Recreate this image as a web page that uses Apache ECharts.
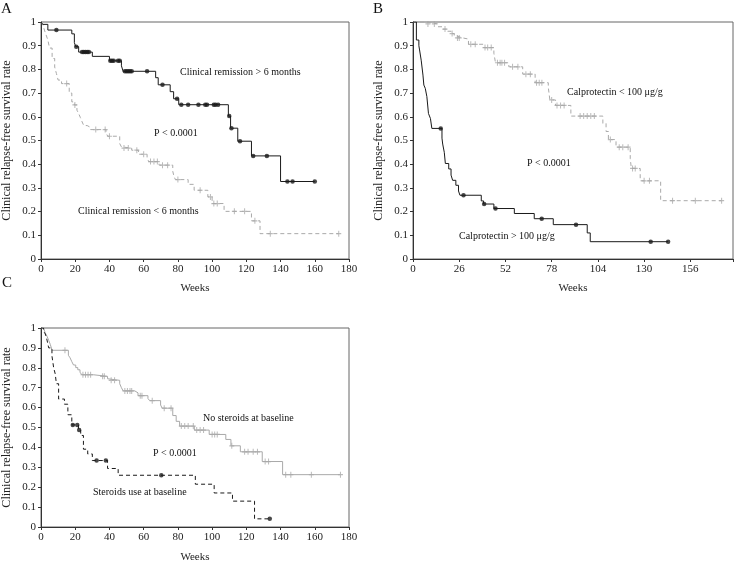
<!DOCTYPE html>
<html>
<head>
<meta charset="utf-8">
<script src="https://cdn.jsdelivr.net/npm/echarts@6/dist/echarts.min.js"></script>
<style>
html,body{margin:0;padding:0;background:#fff;}
#chart{width:736px;height:564px;}
</style>
</head>
<body>
<div id="chart"></div>
<script>
// ---------- Data ----------
// Panel A: Clinical remission > 6 months (black, dots)
const aHighTimes = [0, 1, 4, 18, 19.5, 20.3, 22, 30, 40, 47, 48, 67, 68.5, 75.5, 77.5, 80.5, 109.5, 110.8, 115, 123, 140, 160];
const aHighSurv  = [1, 0.99, 0.966, 0.95, 0.913, 0.896, 0.873, 0.855, 0.836, 0.815, 0.792, 0.765, 0.735, 0.706, 0.676, 0.651, 0.603, 0.552, 0.497, 0.435, 0.327, 0.327];
const aHighCensor = [9, 20.6, 24, 25, 26, 27, 28, 40.5, 41.5, 42.5, 45, 46, 49, 50, 51, 52, 53, 62, 71, 79.5, 82, 86, 92, 96, 97, 101, 102, 103.5, 110, 111.3, 116.3, 124, 132, 144, 147, 160];
// Panel A: Clinical remission < 6 months (grey dashed, +)
const aLowTimes = [0, 1, 2, 3, 4, 5, 6.5, 8, 9, 10, 12, 16.5, 18, 19.5, 21, 22, 23, 24, 25, 27, 29, 38, 39, 46, 47, 48, 53, 57, 62, 63, 69, 77, 77.5, 78.5, 86, 89.5, 97.5, 100, 107, 123, 128, 174];
const aLowSurv  = [1, 0.99, 0.966, 0.945, 0.924, 0.89, 0.846, 0.81, 0.783, 0.755, 0.74, 0.7, 0.663, 0.65, 0.628, 0.614, 0.597, 0.579, 0.563, 0.555, 0.546, 0.532, 0.518, 0.487, 0.473, 0.468, 0.459, 0.442, 0.425, 0.411, 0.396, 0.37, 0.355, 0.335, 0.315, 0.29, 0.262, 0.234, 0.201, 0.161, 0.107, 0.107];
const aLowCensor = [15, 19.8, 32, 37.5, 40, 48.5, 51, 56, 60, 64, 66, 68, 71, 74, 80, 93, 99, 101, 103, 113, 119, 125, 134, 174];

// Panel B: Calprotectin < 100 µg/g (grey dashed, +)
const bLowTimes = [0, 7.4, 13.9, 16.7, 19.5, 21.4, 23.2, 24.5, 27.9, 31.2, 39.6, 45.5, 46.4, 53.9, 61.7, 68.7, 76.1, 77, 80.2, 88.8, 106.8, 108.6, 109.9, 114.2, 122.2, 122.8, 127.8, 139.3, 173.6];
const bLowSurv  = [1, 0.992, 0.98, 0.97, 0.961, 0.951, 0.941, 0.933, 0.928, 0.906, 0.892, 0.868, 0.828, 0.811, 0.78, 0.744, 0.724, 0.671, 0.648, 0.603, 0.572, 0.538, 0.504, 0.472, 0.425, 0.382, 0.33, 0.246, 0.246];
const bLowCensor = [8.4, 12, 18, 22, 25, 26, 32.5, 35, 40.5, 42, 44, 47.5, 49, 50, 51.5, 56, 59, 63.5, 66, 69.5, 71, 72.5, 78, 81, 83, 85, 94, 96, 98, 100, 102, 111, 116, 118, 121, 123.5, 125, 130, 133, 146, 158.8, 173.6];
// Panel B: Calprotectin > 100 µg/g (black, dots)
const bHighTimes = [0, 1.9, 3.3, 3.7, 4.6, 5.6, 6.1, 6.9, 7.8, 8.7, 9.8, 10.6, 16.3, 16.7, 17.6, 18.2, 20.1, 21.4, 22.3, 24.1, 25.6, 26.4, 38.4, 39.7, 45.5, 57, 68.2, 78.9, 98, 99.7, 143.5];
const bHighSurv  = [1, 0.924, 0.9, 0.882, 0.839, 0.776, 0.734, 0.72, 0.685, 0.614, 0.593, 0.551, 0.51, 0.485, 0.45, 0.403, 0.38, 0.354, 0.332, 0.311, 0.287, 0.269, 0.245, 0.232, 0.213, 0.192, 0.17, 0.145, 0.11, 0.073, 0.073];
const bHighCensor = [15.6, 28.4, 40, 46.4, 72.4, 91.7, 133.7, 143.5];

// Panel C: No steroids at baseline (grey solid, +)
const cNoTimes = [0, 1.5, 2.5, 3.5, 4.5, 5.4, 6.5, 16, 17, 18, 19, 20.3, 21.5, 22.8, 23.8, 30.6, 38.9, 39.9, 46, 47, 48, 54.8, 56.7, 62.5, 63.5, 69.9, 70.8, 77, 79, 81, 89.6, 98.3, 108, 111, 116.5, 129.3, 141.2, 175];
const cNoSurv  = [1, 0.992, 0.975, 0.959, 0.938, 0.918, 0.888, 0.863, 0.85, 0.831, 0.814, 0.801, 0.79, 0.778, 0.765, 0.757, 0.745, 0.737, 0.72, 0.7, 0.684, 0.674, 0.66, 0.646, 0.635, 0.613, 0.597, 0.56, 0.531, 0.507, 0.487, 0.465, 0.44, 0.408, 0.378, 0.329, 0.263, 0.263];
const cNoCensor = [14, 24.5, 26, 27.5, 29, 36, 37, 41, 43, 49, 50.5, 52, 53, 58, 59, 65, 72, 76, 82, 84, 86, 89, 91, 93, 95, 100, 101.5, 103, 111.5, 119, 121, 124, 126.5, 131, 133, 143, 146, 158, 175];
// Panel C: Steroids use at baseline (black dashed, dots)
const cStTimes = [0, 1.5, 2.5, 3.5, 4.5, 6.4, 7.4, 8.3, 9, 10.3, 13.7, 15.7, 18, 21.9, 23.2, 24.8, 27.3, 30, 38.9, 45.1, 90.2, 101.2, 111.9, 124.8, 133.7];
const cStSurv  = [1, 0.984, 0.97, 0.94, 0.9, 0.86, 0.8, 0.77, 0.72, 0.643, 0.617, 0.564, 0.513, 0.487, 0.46, 0.391, 0.367, 0.334, 0.294, 0.26, 0.215, 0.171, 0.13, 0.041, 0.041];
const cStCensor = [18.6, 21.2, 22.3, 32.5, 37.9, 70.3, 133.7];

// Axis ticks
const yTicks = [0, 0.1, 0.2, 0.3, 0.4, 0.5, 0.6, 0.7, 0.8, 0.9, 1];
const xTicksAC = [0, 20, 40, 60, 80, 100, 120, 140, 160, 180];
const xTicksB = [0, 26, 52, 78, 104, 130, 156];

// ---------- Helpers ----------
const FONT = '"Liberation Serif", "DejaVu Serif", serif';
const BLACK = '#1a1a1a';
const GREY = '#a9a9a9';
const PLUS = 'path://M4,0H6V4H10V6H6V10H4V6H0V4H4Z';

function pairs(t, s) { return t.map((v, i) => [v, s[i]]); }
function survAt(t, s, x) {
  let v = s[0];
  for (let i = 0; i < t.length; i++) { if (t[i] <= x) v = s[i]; }
  return v;
}
function censorPts(t, s, c) { return c.map(x => [x, survAt(t, s, x)]); }

const grids = [
  { left: 39, top: 22, width: 310, height: 237 },
  { left: 413, top: 22, width: 322, height: 237 },
  { left: 39, top: 328, width: 310, height: 203 }
];

function mainX(gi, interval, ticks, gap) {
  return {
    type: 'value', gridIndex: gi, min: 0, max: 180, interval: interval,
    name: 'Weeks', nameLocation: 'middle', nameGap: gap,
    nameTextStyle: { fontFamily: FONT, fontSize: 11, color: '#222' },
    axisLine: { lineStyle: { color: '#333', width: 1 } },
    axisTick: { length: 3, lineStyle: { color: '#333' } },
    axisLabel: { fontFamily: FONT, fontSize: 11, color: '#222', margin: 5,
      formatter: v => (ticks.indexOf(v) >= 0 ? String(v) : '') },
    splitLine: { show: false }
  };
}
function innerX(gi, interval) {
  return {
    type: 'value', gridIndex: gi, min: 0, max: 180, interval: interval,
    axisLine: { show: false }, axisLabel: { show: false }, splitLine: { show: false },
    axisTick: { inside: true, length: 3, lineStyle: { color: '#333' } }
  };
}
function mainY(gi) {
  return {
    type: 'value', gridIndex: gi, min: 0, max: 1, interval: 0.1,
    name: 'Clinical relapse-free survival rate', nameLocation: 'middle', nameGap: 28, nameRotate: 90,
    nameTextStyle: { fontFamily: FONT, fontSize: 12, color: '#222' },
    axisLine: { show: true, lineStyle: { color: '#333', width: 1 } },
    axisTick: { show: true, length: 3, lineStyle: { color: '#333' } },
    axisLabel: { fontFamily: FONT, fontSize: 11, color: '#222', margin: 5,
      formatter: v => { const r = Math.round(v * 10) / 10; return yTicks.indexOf(r) >= 0 ? String(r) : ''; } },
    splitLine: { show: false }
  };
}
function innerY(gi) {
  return {
    type: 'value', gridIndex: gi, min: 0, max: 1, interval: 0.1,
    axisLine: { show: false }, axisLabel: { show: false }, splitLine: { show: false },
    axisTick: { show: true, inside: true, length: 3, lineStyle: { color: '#333' } }
  };
}

function stepLine(xi, t, s, color, dashed) {
  return {
    type: 'line', xAxisIndex: xi, yAxisIndex: xi, step: 'end', showSymbol: false, silent: true,
    data: pairs(t, s),
    lineStyle: { color: color, width: 1, type: dashed ? [4, 3] : 'solid' },
    animation: false, z: 3
  };
}
function censorDots(xi, t, s, c) {
  return {
    type: 'scatter', xAxisIndex: xi, yAxisIndex: xi, symbol: 'circle', symbolSize: 4.5,
    itemStyle: { color: BLACK }, data: censorPts(t, s, c), animation: false, z: 4
  };
}
function censorPlus(xi, t, s, c) {
  return {
    type: 'scatter', xAxisIndex: xi, yAxisIndex: xi, symbol: PLUS, symbolSize: [5, 6],
    itemStyle: { color: GREY }, data: censorPts(t, s, c), animation: false, z: 4
  };
}

function txt(x, y, s, size) {
  return { type: 'text', left: x, top: y, style: { text: s, font: (size || 10) + 'px ' + FONT, fill: '#111' } };
}

const option = {
  backgroundColor: '#fff',
  animation: false,
  grid: grids.map(g => Object.assign({ show: true, borderColor: '#666', borderWidth: 1, backgroundColor: 'transparent' }, g)),
  xAxis: [
    mainX(0, 20, xTicksAC, 24), mainX(1, 26, xTicksB, 24), mainX(2, 20, xTicksAC, 25),
    innerX(0, 20), innerX(1, 26), innerX(2, 20)
  ],
  yAxis: [mainY(0), mainY(1), mainY(2), innerY(0), innerY(1), innerY(2)],
  series: [
    stepLine(0, aLowTimes, aLowSurv, GREY, true),
    censorPlus(0, aLowTimes, aLowSurv, aLowCensor),
    stepLine(0, aHighTimes, aHighSurv, BLACK, false),
    censorDots(0, aHighTimes, aHighSurv, aHighCensor),

    stepLine(1, bLowTimes, bLowSurv, GREY, true),
    censorPlus(1, bLowTimes, bLowSurv, bLowCensor),
    stepLine(1, bHighTimes, bHighSurv, BLACK, false),
    censorDots(1, bHighTimes, bHighSurv, bHighCensor),

    stepLine(2, cNoTimes, cNoSurv, GREY, false),
    censorPlus(2, cNoTimes, cNoSurv, cNoCensor),
    stepLine(2, cStTimes, cStSurv, BLACK, true),
    censorDots(2, cStTimes, cStSurv, cStCensor)
  ],
  graphic: [
    txt(1, 2, 'A', 15), txt(373, 2, 'B', 15), txt(2, 276, 'C', 15),
    txt(180, 67, 'Clinical remission > 6 months'),
    txt(154, 128, 'P < 0.0001'),
    txt(78, 206, 'Clinical remission < 6 months'),
    txt(567, 87, 'Calprotectin < 100 μg/g'),
    txt(527, 158, 'P < 0.0001'),
    txt(459, 231, 'Calprotectin > 100 μg/g'),
    txt(203, 413, 'No steroids at baseline'),
    txt(153, 448, 'P < 0.0001'),
    txt(93, 487, 'Steroids use at baseline')
  ]
};

const chart = echarts.init(document.getElementById('chart'), null, { renderer: 'canvas' });
chart.setOption(option);
</script>
</body>
</html>
